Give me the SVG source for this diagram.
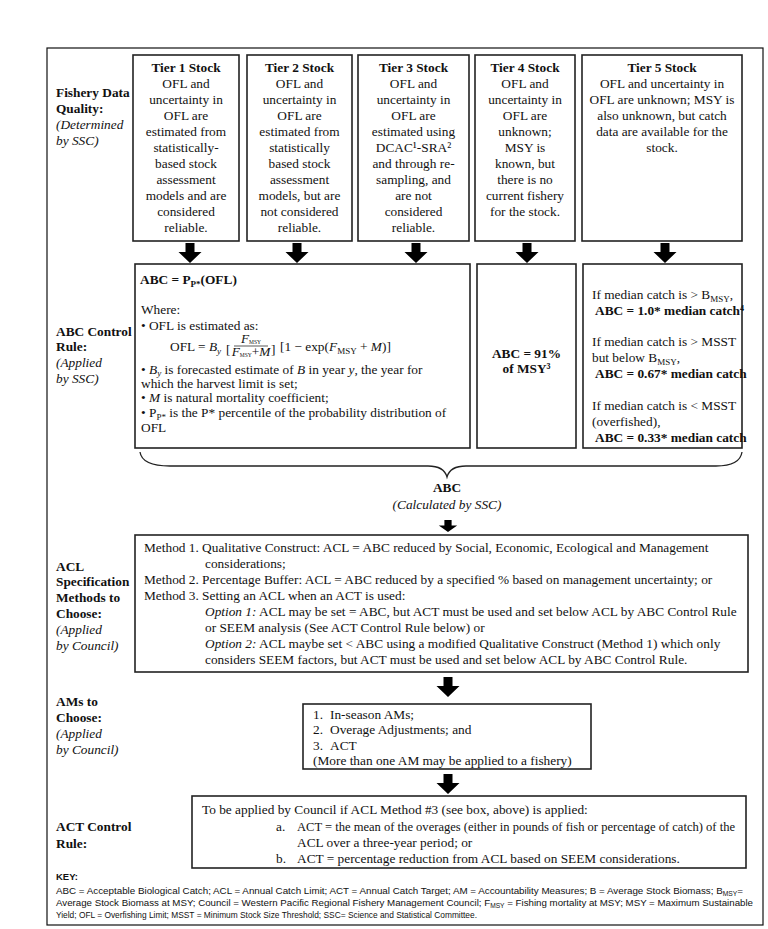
<svg xmlns="http://www.w3.org/2000/svg" width="768" height="929" viewBox="0 0 768 929">
<style>
text{font-family:"Liberation Serif","Times New Roman",serif;font-size:13.33px;fill:#111}
.c{text-anchor:middle}
.b{font-weight:bold}
.i{font-style:italic}
.box{fill:#fff;stroke:#222;stroke-width:1.6}
.arr{fill:#000}
.sub{font-size:9px}
.key{font-family:"Liberation Sans",Arial,sans-serif;font-size:9.5px}
</style>
<defs>
<path id="ar" d="M-4.5,-20 h9 v9 h7 l-11.5,11 l-11.5,-11 h7 z"/>
</defs>
<rect x="47" y="48" width="716" height="877" fill="#fff" stroke="#111" stroke-width="1.2"/>

<g id="label-fdq">
<text x="56" y="97" class="b">Fishery Data</text>
<text x="56" y="113" class="b">Quality:</text>
<text x="56" y="129" class="i">(Determined</text>
<text x="56" y="145" class="i">by SSC)</text>
</g>
<g id="tier1">
<rect class="box" x="133" y="55" width="106" height="186"/>
<text class="c" x="186" y="72"><tspan class="b">Tier 1 Stock</tspan><tspan x="186" dy="16">OFL and</tspan><tspan x="186" dy="16">uncertainty in</tspan><tspan x="186" dy="16">OFL are</tspan><tspan x="186" dy="16">estimated from</tspan><tspan x="186" dy="16">statistically-</tspan><tspan x="186" dy="16">based stock</tspan><tspan x="186" dy="16">assessment</tspan><tspan x="186" dy="16">models and are</tspan><tspan x="186" dy="16">considered</tspan><tspan x="186" dy="16">reliable.</tspan></text>
</g>
<g id="tier2">
<rect class="box" x="247" y="55" width="105" height="186"/>
<text class="c" x="299.5" y="72"><tspan class="b">Tier 2 Stock</tspan><tspan x="299.5" dy="16">OFL and</tspan><tspan x="299.5" dy="16">uncertainty in</tspan><tspan x="299.5" dy="16">OFL are</tspan><tspan x="299.5" dy="16">estimated from</tspan><tspan x="299.5" dy="16">statistically</tspan><tspan x="299.5" dy="16">based stock</tspan><tspan x="299.5" dy="16">assessment</tspan><tspan x="299.5" dy="16">models, but are</tspan><tspan x="299.5" dy="16">not considered</tspan><tspan x="299.5" dy="16">reliable.</tspan></text>
</g>
<g id="tier3">
<rect class="box" x="358" y="55" width="111" height="186"/>
<text class="c" x="413.5" y="72"><tspan class="b">Tier 3 Stock</tspan><tspan x="413.5" dy="16">OFL and</tspan><tspan x="413.5" dy="16">uncertainty in</tspan><tspan x="413.5" dy="16">OFL are</tspan><tspan x="413.5" dy="16">estimated using</tspan><tspan x="413.5" dy="16">DCAC¹-SRA²</tspan><tspan x="413.5" dy="16">and through re-</tspan><tspan x="413.5" dy="16">sampling, and</tspan><tspan x="413.5" dy="16">are not</tspan><tspan x="413.5" dy="16">considered</tspan><tspan x="413.5" dy="16">reliable.</tspan></text>
</g>
<g id="tier4">
<rect class="box" x="475" y="55" width="100" height="186"/>
<text class="c" x="525" y="72"><tspan class="b">Tier 4 Stock</tspan><tspan x="525" dy="16">OFL and</tspan><tspan x="525" dy="16">uncertainty in</tspan><tspan x="525" dy="16">OFL are</tspan><tspan x="525" dy="16">unknown;</tspan><tspan x="525" dy="16">MSY is</tspan><tspan x="525" dy="16">known, but</tspan><tspan x="525" dy="16">there is no</tspan><tspan x="525" dy="16">current fishery</tspan><tspan x="525" dy="16">for the stock.</tspan></text>
</g>
<g id="tier5">
<rect class="box" x="582" y="55" width="160" height="186"/>
<text class="c" x="662" y="72"><tspan class="b">Tier 5 Stock</tspan><tspan x="662" dy="16">OFL and uncertainty in</tspan><tspan x="662" dy="16">OFL are unknown; MSY is</tspan><tspan x="662" dy="16">also unknown, but catch</tspan><tspan x="662" dy="16">data are available for the</tspan><tspan x="662" dy="16">stock.</tspan></text>
</g>

<g id="label-abc">
<text x="56" y="336" class="b">ABC Control</text>
<text x="56" y="351" class="b">Rule:</text>
<text x="56" y="367" class="i">(Applied</text>
<text x="56" y="383" class="i">by SSC)</text>
</g>
<g id="abc-tier123">
<rect class="box" x="135" y="264" width="335" height="184"/>
<text x="140" y="284" class="b">ABC = P<tspan class="sub" dy="3">P*</tspan><tspan dy="-3">(OFL)</tspan></text>
<text x="141" y="314">Where:</text>
<text x="141" y="330">• OFL is estimated as:</text>
<text x="170" y="351">OFL = <tspan class="i">B</tspan><tspan class="sub i" dy="3">y</tspan></text>
<text x="226" y="353.5" font-size="15">[</text>
<text x="251" y="342.5" class="c" font-size="8"><tspan class="i">F</tspan><tspan font-size="5.5" dy="1">MSY</tspan></text>
<line x1="234" y1="346" x2="268" y2="346" stroke="#111" stroke-width="0.7"/>
<text x="251" y="355.5" class="c" font-size="8"><tspan class="i">F</tspan><tspan font-size="5.5" dy="1">MSY</tspan><tspan dy="-1">+</tspan><tspan class="i">M</tspan></text>
<text x="271" y="353.5" font-size="15">]</text>
<text x="280" y="351">[1 − exp(<tspan class="i">F</tspan><tspan class="sub" dy="3">MSY</tspan><tspan dy="-3"> + </tspan><tspan class="i">M</tspan>)]</text>
<text x="141" y="373.5">• <tspan class="i">B</tspan><tspan class="sub i" dy="2.5">y</tspan><tspan dy="-2.5"> is forecasted estimate of </tspan><tspan class="i">B</tspan>  in year <tspan class="i">y</tspan>, the year for</text>
<text x="141" y="388">which the harvest limit is set;</text>
<text x="141" y="402">• <tspan class="i">M</tspan> is natural mortality coefficient;</text>
<text x="141" y="417">• P<tspan class="sub" dy="3">P*</tspan><tspan dy="-3"> is the P* percentile of the probability distribution of</tspan></text>
<text x="141" y="432">OFL</text>
</g>
<g id="abc-tier4">
<rect class="box" x="477" y="264" width="99" height="184"/>
<text x="526.5" y="358" class="c b">ABC = 91%</text>
<text x="526.5" y="373" class="c b">of MSY³</text>
</g>
<g id="abc-tier5">
<rect class="box" x="583" y="264" width="159" height="184"/>
<text x="592" y="299">If median catch is &gt; B<tspan class="sub" dy="3">MSY</tspan><tspan dy="-3">,</tspan></text>
<text x="595" y="315" class="b">ABC = 1.0* median catch⁴</text>
<text x="592" y="346">If median catch is &gt; MSST</text>
<text x="592" y="362">but below B<tspan class="sub" dy="3">MSY</tspan><tspan dy="-3">,</tspan></text>
<text x="595" y="378" class="b">ABC = 0.67* median catch</text>
<text x="592" y="410">If median catch is &lt; MSST</text>
<text x="592" y="426">(overfished),</text>
<text x="595" y="442" class="b">ABC = 0.33* median catch</text>
</g>

<g id="abc-result">
<path d="M140,452 Q142,466 170,466 L428,466 Q444,466 447,477 Q450,466 466,466 L716,466 Q740,466 742,452" fill="none" stroke="#222" stroke-width="1.3"/>
<text x="447" y="492" class="c b">ABC</text>
<text x="447" y="509" class="c i">(Calculated by SSC)</text>
</g>

<g id="label-acl">
<text x="56" y="571" class="b">ACL</text>
<text x="56" y="586" class="b">Specification</text>
<text x="56" y="602" class="b">Methods to</text>
<text x="56" y="618" class="b">Choose:</text>
<text x="56" y="634" class="i">(Applied</text>
<text x="56" y="650" class="i">by Council)</text>
</g>
<g id="acl-methods">
<rect class="box" x="135" y="535" width="613" height="137"/>
<text x="144" y="552">Method 1. Qualitative Construct: ACL = ABC reduced by Social, Economic, Ecological and Management</text>
<text x="205" y="568">considerations;</text>
<text x="144" y="584">Method 2. Percentage Buffer: ACL = ABC reduced by a specified % based on management uncertainty; or</text>
<text x="144" y="600">Method 3. Setting an ACL when an ACT is used:</text>
<text x="205" y="616"><tspan class="i">Option 1:</tspan> ACL may be set = ABC, but ACT must be used and set below ACL by ABC Control Rule</text>
<text x="205" y="632">or SEEM analysis (See ACT Control Rule below) or</text>
<text x="205" y="648"><tspan class="i">Option 2:</tspan> ACL maybe set &lt; ABC using a modified Qualitative Construct (Method 1) which only</text>
<text x="205" y="664">considers SEEM factors, but ACT must be used and set below ACL by ABC Control Rule.</text>
</g>

<g id="label-am">
<text x="56" y="706" class="b">AMs to</text>
<text x="56" y="722" class="b">Choose:</text>
<text x="56" y="738" class="i">(Applied</text>
<text x="56" y="754" class="i">by Council)</text>
</g>
<g id="ams">
<rect class="box" x="303" y="704" width="288" height="65"/>
<text x="313" y="718.5">1.</text><text x="330" y="718.5">In-season AMs;</text>
<text x="313" y="734">2.</text><text x="330" y="734">Overage Adjustments; and</text>
<text x="313" y="749.5">3.</text><text x="330" y="749.5">ACT</text>
<text x="313" y="765">(More than one AM may be applied to a fishery)</text>
</g>

<g id="label-act">
<text x="56" y="831" class="b">ACT Control</text>
<text x="56" y="848" class="b">Rule:</text>
</g>
<g id="act-rule">
<rect class="box" x="192" y="796" width="554" height="72"/>
<text x="202" y="814">To be applied by Council if ACL Method #3 (see box, above) is applied:</text>
<text x="276" y="831">a.</text><text x="297" y="831" textLength="438" lengthAdjust="spacingAndGlyphs">ACT = the mean of the overages (either in pounds of fish or percentage of catch) of the</text>
<text x="297" y="847">ACL over a three-year period; or</text>
<text x="276" y="863">b.</text><text x="297" y="863">ACT = percentage reduction from ACL based on SEEM considerations.</text>
</g>

<g id="key">
<text x="56" y="880" class="key" font-weight="bold">KEY:</text>
<text x="56" y="893.5" class="key" textLength="687" lengthAdjust="spacingAndGlyphs">ABC = Acceptable Biological Catch; ACL = Annual Catch Limit; ACT = Annual Catch Target; AM = Accountability Measures; B = Average Stock Biomass; B<tspan font-size="6.5" dy="2">MSY</tspan><tspan dy="-2">=</tspan></text>
<text x="56" y="905.5" class="key" textLength="697" lengthAdjust="spacingAndGlyphs">Average Stock Biomass at MSY; Council = Western Pacific Regional Fishery Management Council; F<tspan font-size="6.5" dy="2">MSY</tspan><tspan dy="-2"> = Fishing mortality at MSY; MSY = Maximum Sustainable</tspan></text>
<text x="56" y="918" class="key" textLength="421" lengthAdjust="spacingAndGlyphs">Yield; OFL = Overfishing Limit; MSST = Minimum Stock Size Threshold; SSC= Science and Statistical Committee.</text>
</g>

<g id="connectors">
<use href="#ar" class="arr" transform="translate(190,263)"/>
<use href="#ar" class="arr" transform="translate(297,263)"/>
<use href="#ar" class="arr" transform="translate(416,263)"/>
<use href="#ar" class="arr" transform="translate(527,263)"/>
<use href="#ar" class="arr" transform="translate(665,263)"/>
<use href="#ar" class="arr" transform="translate(448,532) scale(0.8,0.6)"/>
<use href="#ar" class="arr" transform="translate(448,697)"/>
<use href="#ar" class="arr" transform="translate(448,794)"/>
</g>
</svg>
